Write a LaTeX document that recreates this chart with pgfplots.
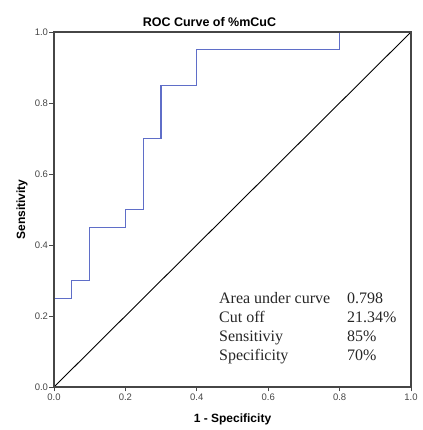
\documentclass[border=0pt]{standalone}
\usepackage{pgfplots}
\pgfplotsset{compat=1.18}
\usepackage{fontspec}
\setmainfont{Liberation Serif}
\setsansfont{Liberation Sans}
\definecolor{roc}{RGB}{95,110,200}
\definecolor{axgray}{RGB}{70,70,70}
\begin{document}
\begin{tikzpicture}
\path[use as bounding box] (-54pt,-43pt) rectangle (368pt,387pt);
\begin{axis}[
  scale only axis,
  width=357pt, height=355pt,
  at={(0,0)}, anchor=south west,
  xmin=0, xmax=1, ymin=0, ymax=1,
  xtick={0,0.2,0.4,0.6,0.8,1.0},
  ytick={0,0.2,0.4,0.6,0.8,1.0},
  xticklabel style={/pgf/number format/.cd,fixed,fixed zerofill,precision=1},
  yticklabel style={/pgf/number format/.cd,fixed,fixed zerofill,precision=1},
  /pgf/number format/assume math mode=true,
  ticklabel style={font=\sffamily\fontsize{9.5}{10}\selectfont, text=axgray},
  tick align=outside, tick pos=left,
  major tick length=4.5pt,
  tick style={axgray, line width=0.9pt},
  axis line style={axgray, line width=1.2pt},
  axis on top,
  xticklabel shift=-1pt,
  yticklabel shift=-2pt,
  xlabel={\textbf{1 - Specificity}},
  ylabel={\textbf{Sensitivity}},
  xlabel style={font=\sffamily\fontsize{12}{13}\selectfont, at={(axis description cs:0.5,0)}, anchor=center, yshift=-32pt},
  ylabel style={font=\sffamily\fontsize{12}{13}\selectfont, at={(axis description cs:0,0.5)}, anchor=center, yshift=32pt},
  clip=false,
]
\addplot[roc, line width=1.25pt] coordinates {
  (0,0) (0,0.25) (0.05,0.25) (0.05,0.30) (0.10,0.30) (0.10,0.45)
  (0.20,0.45) (0.20,0.50) (0.25,0.50) (0.25,0.70) (0.30,0.70)
  (0.30,0.85) (0.40,0.85) (0.40,0.95) (0.80,0.95) (0.80,1.0) (1,1)
};
\addplot[black, line width=0.9pt] coordinates {(0,0) (1,1)};
\node[anchor=north west, inner sep=0pt, font=\fontsize{16}{19.3}\selectfont, text=black!85]
  at (axis cs:0.462,0.275)
  {\begin{tabular}{@{}l@{\hspace{17pt}}l@{}}
   Area under curve & 0.798\\
   Cut off & 21.34\%\\
   Sensitiviy & 85\%\\
   Specificity & 70\%
   \end{tabular}};
\end{axis}
\node[font=\sffamily\bfseries\fontsize{12.5}{13}\selectfont] at (155.5pt,365pt) {ROC Curve of \%mCuC};
\end{tikzpicture}
\end{document}
